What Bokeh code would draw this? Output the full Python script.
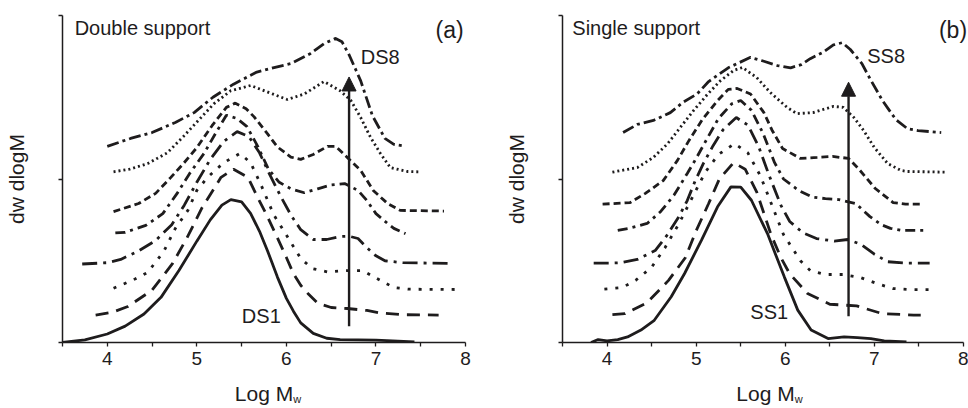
from bokeh.plotting import figure
from bokeh.layouts import row
from bokeh.models import Range1d, FixedTicker, Label, Arrow, NormalHead, LinearAxis
from bokeh.embed import file_html
from bokeh.resources import INLINE

# ---------------- data (Log Mw, offset dw/dlogM in arbitrary units) ----------------
x_ticks = [4, 5, 6, 7, 8]
x_minor = [3.5, 4.5, 5.5, 6.5, 7.5]
y_ticks = [0, 5, 10]

# Panel (a) Double support, DS1 ... DS8
ds1_x = [3.5, 3.75, 4.0, 4.2, 4.41, 4.6, 4.8, 5.0, 5.15, 5.28, 5.38, 5.5, 5.6, 5.7, 5.79, 5.9, 6.0, 6.08, 6.16, 6.3, 6.45, 6.6, 7.0, 7.43]
ds1_y = [0.0, 0.08, 0.26, 0.5, 0.87, 1.38, 2.2, 3.1, 3.75, 4.2, 4.37, 4.3, 3.95, 3.4, 2.8, 2.0, 1.35, 0.95, 0.6, 0.28, 0.13, 0.09, 0.07, 0.02]

ds2_x = [3.87, 4.05, 4.23, 4.5, 4.73, 4.89, 5.06, 5.27, 5.41, 5.57, 5.68, 5.78, 5.9, 6.0, 6.08, 6.16, 6.24, 6.35, 6.5, 6.68, 6.9, 7.05, 7.3, 7.7]
ds2_y = [0.84, 0.92, 1.1, 1.6, 2.42, 3.2, 4.13, 5.05, 5.3, 5.05, 4.43, 3.9, 3.2, 2.6, 2.1, 1.75, 1.5, 1.2, 1.07, 1.04, 0.98, 0.9, 0.85, 0.84]

ds3_x = [4.07, 4.28, 4.45, 4.63, 4.76, 4.9, 5.0, 5.12, 5.3, 5.48, 5.6, 5.72, 5.86, 5.97, 6.16, 6.29, 6.46, 6.68, 6.85, 7.01, 7.2, 7.36, 7.96]
ds3_y = [1.66, 1.9, 2.14, 2.78, 3.49, 4.04, 4.65, 5.05, 5.5, 5.78, 5.5, 4.8, 3.9, 3.42, 2.57, 2.26, 2.16, 2.2, 2.2, 1.96, 1.68, 1.63, 1.62]

ds4_x = [3.72, 4.0, 4.15, 4.35, 4.54, 4.72, 4.86, 5.0, 5.15, 5.3, 5.45, 5.58, 5.7, 5.82, 5.95, 6.05, 6.16, 6.3, 6.45, 6.6, 6.7, 6.8, 6.9, 7.0, 7.1, 7.3, 7.85]
ds4_y = [2.4, 2.44, 2.54, 2.8, 3.12, 3.6, 4.2, 4.9, 5.6, 6.15, 6.45, 6.3, 5.8, 5.1, 4.4, 3.9, 3.45, 3.15, 3.15, 3.24, 3.25, 3.18, 2.9, 2.65, 2.5, 2.44, 2.42]

ds5_x = [4.09, 4.2, 4.43, 4.62, 4.78, 4.92, 5.08, 5.21, 5.33, 5.45, 5.56, 5.68, 5.8, 5.92, 6.05, 6.2, 6.35, 6.5, 6.65, 6.8, 6.9, 7.0, 7.13, 7.2, 7.33]
ds5_y = [3.35, 3.37, 3.58, 3.94, 4.56, 5.17, 5.78, 6.4, 6.95, 6.85, 6.6, 6.0, 5.3, 4.9, 4.7, 4.58, 4.7, 4.82, 4.86, 4.65, 4.34, 3.94, 3.64, 3.49, 3.33]

ds6_x = [4.07, 4.35, 4.54, 4.71, 4.85, 5.0, 5.17, 5.33, 5.43, 5.55, 5.64, 5.79, 5.9, 6.05, 6.16, 6.3, 6.46, 6.55, 6.68, 6.83, 6.97, 7.13, 7.27, 7.76]
ds6_y = [4.0, 4.25, 4.56, 5.05, 5.47, 5.96, 6.63, 7.19, 7.32, 7.15, 6.9, 6.38, 5.98, 5.67, 5.6, 5.75, 6.0, 6.0, 5.66, 5.26, 4.65, 4.25, 4.04, 4.02]

ds7_x = [4.07, 4.25, 4.45, 4.67, 4.85, 5.02, 5.19, 5.38, 5.6, 5.8, 6.01, 6.2, 6.42, 6.6, 6.72, 6.83, 6.94, 7.05, 7.16, 7.35, 7.48]
ds7_y = [5.22, 5.3, 5.47, 5.8, 6.3, 6.8, 7.3, 7.7, 7.86, 7.65, 7.43, 7.6, 7.98, 7.7, 7.4, 6.88, 6.27, 5.78, 5.35, 5.23, 5.22]

ds8_x = [4.0, 4.26, 4.5, 4.76, 4.97, 5.18, 5.41, 5.66, 5.85, 6.05, 6.27, 6.42, 6.55, 6.62, 6.7, 6.83, 6.96, 7.1, 7.2, 7.33]
ds8_y = [6.0, 6.24, 6.42, 6.73, 7.03, 7.5, 7.9, 8.26, 8.4, 8.53, 8.84, 9.14, 9.3, 9.2, 8.8, 8.0, 6.94, 6.24, 6.06, 6.0]

# Panel (b) Single support, SS1 ... SS8
ss1_x = [3.82, 3.9, 4.0, 4.12, 4.23, 4.38, 4.53, 4.72, 4.87, 5.06, 5.24, 5.39, 5.5, 5.62, 5.8, 5.99, 6.14, 6.29, 6.48, 6.66, 6.81, 6.96, 7.11, 7.36]
ss1_y = [0.0, 0.09, 0.05, 0.09, 0.17, 0.38, 0.68, 1.4, 2.11, 3.13, 4.15, 4.76, 4.75, 4.35, 3.33, 2.0, 0.99, 0.38, 0.12, 0.17, 0.15, 0.12, 0.05, 0.02]

ss2_x = [4.06, 4.2, 4.45, 4.69, 4.88, 5.0, 5.14, 5.26, 5.42, 5.55, 5.68, 5.84, 5.95, 6.05, 6.25, 6.5, 6.8, 7.09, 7.44, 7.52]
ss2_y = [0.85, 0.88, 1.22, 1.9, 2.6, 3.42, 4.25, 5.0, 5.5, 5.3, 4.6, 3.3, 2.6, 2.1, 1.5, 1.17, 1.12, 0.88, 0.84, 0.84]

ss3_x = [3.97, 4.17, 4.32, 4.5, 4.65, 4.8, 4.95, 5.1, 5.25, 5.43, 5.58, 5.72, 5.85, 5.98, 6.17, 6.28, 6.45, 6.65, 6.84, 7.03, 7.21, 7.4, 7.62]
ss3_y = [1.63, 1.68, 1.9, 2.3, 2.9, 3.6, 4.4, 5.2, 5.75, 6.08, 5.8, 5.1, 4.2, 3.3, 2.5, 2.2, 2.08, 2.08, 1.99, 1.8, 1.65, 1.62, 1.62]

ss4_x = [3.85, 4.04, 4.15, 4.34, 4.54, 4.67, 4.8, 4.9, 4.99, 5.08, 5.19, 5.3, 5.45, 5.58, 5.7, 5.82, 5.95, 6.05, 6.2, 6.35, 6.55, 6.7, 6.85, 7.0, 7.15, 7.35, 7.62]
ss4_y = [2.43, 2.43, 2.44, 2.54, 2.81, 3.27, 3.82, 4.34, 4.95, 5.47, 6.02, 6.5, 6.88, 6.65, 6.0, 5.1, 4.2, 3.7, 3.35, 3.18, 3.1, 3.15, 3.0, 2.7, 2.47, 2.43, 2.43]

ss5_x = [4.12, 4.26, 4.45, 4.6, 4.75, 4.9, 5.0, 5.13, 5.25, 5.4, 5.5, 5.62, 5.75, 5.88, 5.98, 6.15, 6.3, 6.45, 6.6, 6.79, 6.95, 7.08, 7.18, 7.3, 7.56]
ss5_y = [3.43, 3.5, 3.64, 4.0, 4.5, 5.17, 5.63, 6.27, 6.85, 7.3, 7.4, 7.1, 6.4, 5.5, 5.0, 4.65, 4.45, 4.4, 4.37, 4.25, 3.85, 3.6, 3.49, 3.43, 3.43]

ss6_x = [3.95, 4.26, 4.43, 4.63, 4.79, 4.92, 5.07, 5.24, 5.36, 5.46, 5.61, 5.76, 5.85, 5.97, 6.17, 6.36, 6.53, 6.71, 6.82, 7.01, 7.21, 7.35, 7.52]
ss6_y = [4.23, 4.28, 4.56, 4.95, 5.57, 6.18, 6.82, 7.4, 7.74, 7.77, 7.6, 7.03, 6.5, 5.93, 5.63, 5.66, 5.69, 5.63, 5.32, 4.71, 4.28, 4.23, 4.23]

ss7_x = [4.06, 4.34, 4.52, 4.68, 4.82, 4.97, 5.13, 5.27, 5.42, 5.52, 5.68, 5.83, 6.02, 6.13, 6.31, 6.54, 6.65, 6.77, 6.88, 7.0, 7.15, 7.3, 7.37, 7.8]
ss7_y = [5.21, 5.35, 5.66, 6.08, 6.57, 7.09, 7.6, 8.0, 8.32, 8.41, 8.1, 7.65, 7.19, 7.0, 7.03, 7.22, 7.19, 6.88, 6.48, 5.96, 5.47, 5.26, 5.23, 5.21]

ss8_x = [4.18, 4.34, 4.52, 4.71, 4.85, 5.01, 5.14, 5.36, 5.61, 5.76, 5.91, 6.06, 6.18, 6.28, 6.42, 6.54, 6.64, 6.73, 6.86, 6.95, 7.09, 7.24, 7.37, 7.49, 7.75]
ss8_y = [6.42, 6.67, 6.79, 7.03, 7.34, 7.6, 7.98, 8.4, 8.72, 8.6, 8.47, 8.4, 8.5, 8.68, 8.87, 9.1, 9.17, 8.96, 8.53, 8.07, 7.4, 6.82, 6.54, 6.48, 6.42]

dash_styles = ["solid", "13 8", "3 8", "15 6 3 6", "10 5 3 5", "7 4", "2 3", "12 4 3 4"]

FONT = "Liberation Sans"
INK = "#1e1c1d"


def make_panel(curves, x_end, border_left, border_right, label_texts, arrow, w_pos):
    p = figure(width=484, height=408, output_backend="svg", toolbar_location=None,
               x_range=Range1d(3.5, x_end), y_range=Range1d(0, 10),
               min_border_left=border_left, min_border_right=border_right,
               min_border_top=15, min_border_bottom=66)
    p.outline_line_color = None
    p.grid.visible = False
    p.background_fill_color = "white"
    p.border_fill_color = "white"

    xa = p.xaxis[0]
    xa.ticker = FixedTicker(ticks=x_ticks, minor_ticks=x_minor)
    xa.bounds = (3.5, 8)
    xa.axis_label = "Log M"
    ya = p.yaxis[0]
    ya.ticker = FixedTicker(ticks=y_ticks, minor_ticks=[])
    ya.bounds = (0, 10)
    ya.axis_label = "dw dlogM"
    ya.major_label_overrides = {0: "", 5: "", 10: ""}
    for ax in (xa, ya):
        ax.axis_line_width = 1.5
        ax.axis_line_color = INK
        ax.major_tick_line_width = 1.3
        ax.major_tick_line_color = INK
        ax.minor_tick_line_width = 1.3
        ax.minor_tick_line_color = INK
        ax.major_tick_in = 0
        ax.major_tick_out = 4
        ax.minor_tick_in = 0
        ax.minor_tick_out = 4
        ax.major_label_text_font = FONT
        ax.major_label_text_font_size = "19px"
        ax.major_label_text_color = INK
        ax.axis_label_text_font = FONT
        ax.axis_label_text_font_size = "21px"
        ax.axis_label_text_font_style = "normal"
        ax.axis_label_text_color = INK
    xa.major_label_standoff = 5
    xa.axis_label_standoff = 14
    ya.axis_label_standoff = 31

    # subscript "w" of "Log Mw": an extra, line-less axis whose only tick label is "w"
    wa = LinearAxis(ticker=FixedTicker(ticks=[w_pos], minor_ticks=[]),
                    major_label_overrides={w_pos: "w"},
                    axis_line_color=None, major_tick_line_color=None,
                    minor_tick_line_color=None, major_tick_out=0, major_tick_in=0,
                    minor_tick_out=0, minor_tick_in=0, major_label_standoff=-15,
                    major_label_text_font=FONT, major_label_text_font_size="11px",
                    major_label_text_color=INK)
    p.add_layout(wa, "below")

    for (cx, cy), dash in zip(curves, dash_styles):
        p.line(cx, cy, line_color=INK, line_width=2.8, line_dash=dash)

    ax_x, ay0, ay1 = arrow
    p.add_layout(Arrow(x_start=ax_x, y_start=ay0, x_end=ax_x, y_end=ay1,
                       line_width=2.4, line_color=INK,
                       end=NormalHead(size=14, fill_color=INK, line_color=INK, line_width=1)))

    for (txt, lx, ly, align, size) in label_texts:
        p.add_layout(Label(x=lx, y=ly, text=txt, text_align=align, text_baseline="middle",
                           text_font=FONT, text_font_size=size, text_color=INK))
    return p


curves_a = [(ds1_x, ds1_y), (ds2_x, ds2_y), (ds3_x, ds3_y), (ds4_x, ds4_y),
            (ds5_x, ds5_y), (ds6_x, ds6_y), (ds7_x, ds7_y), (ds8_x, ds8_y)]
curves_b = [(ss1_x, ss1_y), (ss2_x, ss2_y), (ss3_x, ss3_y), (ss4_x, ss4_y),
            (ss5_x, ss5_y), (ss6_x, ss6_y), (ss7_x, ss7_y), (ss8_x, ss8_y)]

labels_a = [("Double support", 3.636, 9.62, "left", "20px"),
            ("(a)", 7.98, 9.57, "right", "23px"),
            ("DS8", 6.83, 8.72, "left", "20px"),
            ("DS1", 5.72, 0.8, "center", "20px")]
labels_b = [("Single support", 3.61, 9.62, "left", "20px"),
            ("(b)", 8.04, 9.57, "right", "23px"),
            ("SS8", 6.92, 8.75, "left", "20px"),
            ("SS1", 5.82, 0.92, "center", "20px")]

pa = make_panel(curves_a, 8.0, 62, 19, labels_a, (6.70, 0.5, 8.12), 6.12)
pb = make_panel(curves_b, 8.056, 78, 0, labels_b, (6.71, 0.8, 7.96), 6.15)

layout = row(pa, pb)
open("out.html", "w").write(file_html(layout, INLINE))
